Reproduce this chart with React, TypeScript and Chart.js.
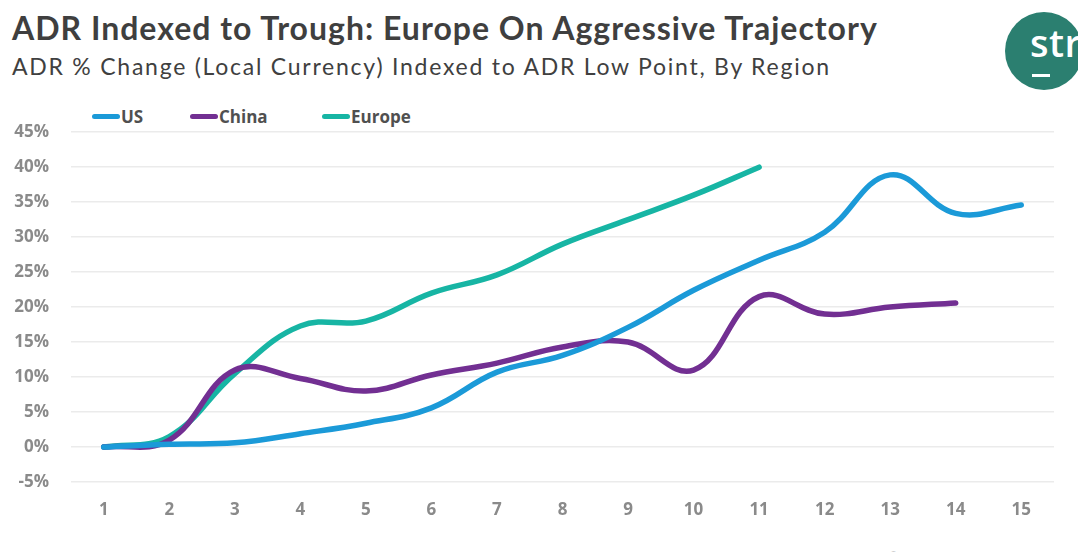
import React, { useEffect, useRef } from "react";
import { Chart, registerables } from "chart.js";

Chart.register(...registerables);

const categories = ["1", "2", "3", "4", "5", "6", "7", "8", "9", "10", "11", "12", "13", "14", "15"];
const usValues = [0, 0.4, 0.6, 1.9, 3.4, 5.6, 10.7, 13.1, 17.1, 22.4, 26.7, 30.7, 38.9, 33.4, 34.6];
const chinaValues = [0, 1.0, 11.0, 9.8, 8.0, 10.3, 12.0, 14.3, 15.0, 11.0, 21.5, 19.0, 20.0, 20.6, null];
const europeValues = [0, 1.5, 10.5, 17.3, 18.0, 22.0, 24.6, 29.0, 32.5, 36.0, 40.0, null, null, null, null];
const seriesNames = ["US", "China", "Europe"];
const seriesColors = ["#1b9ad8", "#722f92", "#17b5a4"];
const yTicks = [-5, 0, 5, 10, 15, 20, 25, 30, 35, 40, 45];

const FONT = "Lato, 'Open Sans', sans-serif";
const TICK_FONT = { family: "'Open Sans', sans-serif", size: 17, weight: "700" as any };

export default function App() {
  const ref = useRef<HTMLCanvasElement | null>(null);

  useEffect(() => {
    if (!ref.current) return;
    const allSeries = [usValues, chinaValues, europeValues];
    const chart = new Chart(ref.current, {
      type: "line",
      data: {
        labels: categories,
        datasets: allSeries.map((vals, i) => ({
          label: seriesNames[i],
          data: vals,
          borderColor: seriesColors[i],
          backgroundColor: seriesColors[i],
          borderWidth: 5.5,
          pointRadius: 0,
          tension: 0.4,
          fill: false,
          borderCapStyle: "round" as const,
          borderJoinStyle: "round" as const,
        })),
      },
      options: {
        animation: false,
        responsive: false,
        maintainAspectRatio: false,
        layout: { padding: { top: 32, left: 0, right: 0, bottom: 0 } },
        plugins: {
          legend: { display: false },
          tooltip: { enabled: false },
        },
        scales: {
          x: {
            offset: true,
            grid: { display: false, drawTicks: false },
            border: { display: false },
            ticks: {
              color: "#8a8a8a",
              font: TICK_FONT,
              padding: 18,
              maxRotation: 0,
            },
            afterFit: (s: any) => {
              s.height = 50;
            },
          },
          y: {
            min: -5,
            max: 45,
            afterBuildTicks: (s: any) => {
              s.ticks = yTicks.map((v) => ({ value: v }));
            },
            grid: { color: "#ebebeb", lineWidth: 1.5, drawTicks: false },
            border: { display: false },
            ticks: {
              color: "#8a8a8a",
              font: TICK_FONT,
              padding: 22,
              callback: (v: any) => `${v}%`,
            },
            afterFit: (s: any) => {
              s.width = 71;
            },
          },
        },
      },
    });
    return () => chart.destroy();
  }, []);

  const legendLeft = [92, 190, 322];

  return (
    <div style={{ position: "relative", width: 1086, height: 560, margin: -8, background: "#fff", overflow: "hidden", fontFamily: FONT }}>
      <div style={{ position: "absolute", left: 12, top: 8, fontSize: 32, fontWeight: 700, letterSpacing: 1, color: "#3f3f3f", whiteSpace: "nowrap" }}>
        ADR Indexed to Trough: Europe On Aggressive Trajectory
      </div>
      <div style={{ position: "absolute", left: 12, top: 52, fontSize: 23, letterSpacing: 1.75, color: "#404040", whiteSpace: "nowrap" }}>
        ADR % Change (Local Currency) Indexed to ADR Low Point, By Region
      </div>
      <div style={{ position: "absolute", left: 1005, top: 12, width: 78, height: 78, borderRadius: "50%", background: "#2b7f70" }}>
        <div style={{ position: "absolute", left: 25, top: 5, fontSize: 38, fontWeight: 600, letterSpacing: 0.5, color: "#fff", fontFamily: "'Open Sans', sans-serif", lineHeight: "50px" }}>
          str
        </div>
        <div style={{ position: "absolute", left: 27, top: 62, width: 18, height: 3, background: "#fff" }} />
      </div>
      {seriesNames.map((n, i) => (
        <div key={n} style={{ position: "absolute", left: legendLeft[i], top: 105, height: 22, display: "flex", alignItems: "center", fontFamily: "'Open Sans', sans-serif", fontSize: 17, fontWeight: 700, color: "#505050", whiteSpace: "nowrap" }}>
          <div style={{ width: 28, height: 5, borderRadius: 3, background: seriesColors[i] }} />
          <span style={{ marginLeft: 1 }}>{n}</span>
        </div>
      ))}
      <canvas ref={ref} width={1054} height={432} style={{ position: "absolute", left: 0, top: 100, width: 1054, height: 432 }} />
      <div style={{ position: "absolute", left: 822, top: 548, fontSize: 8, color: "#9a9a9a", whiteSpace: "nowrap", fontFamily: "'Open Sans', sans-serif" }}>
        Source: STR. 2020 © CoStar Realty Information, Inc.
      </div>
    </div>
  );
}
